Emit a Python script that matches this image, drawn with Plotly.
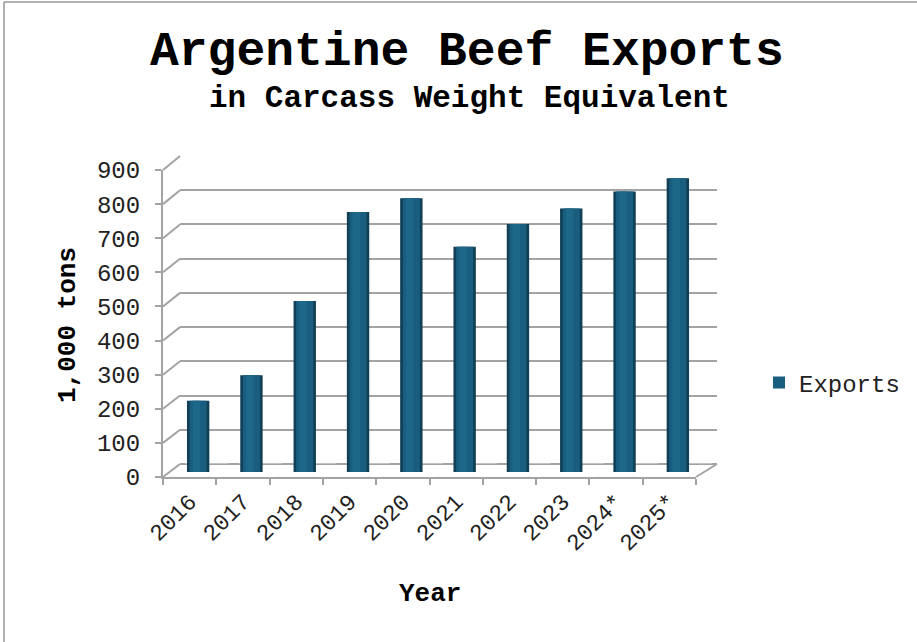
import plotly.graph_objects as go

years = ["2016", "2017", "2018", "2019", "2020", "2021", "2022", "2023", "2024*", "2025*"]
exports = [208, 283, 500, 760, 800, 658, 725, 770, 820, 858]
y_ticks = [0, 100, 200, 300, 400, 500, 600, 700, 800, 900]

W, H = 917, 642
def fx(p): return p / W
def fy(p): return 1 - p / H

FONT = "Liberation Mono, Courier New, monospace"
GRID = "#a3a3a3"

fig = go.Figure()

# back wall subplot (gridlines only) -> xaxis / yaxis
fig.add_trace(go.Bar(x=years, y=[0]*len(years), xaxis="x", yaxis="y",
                     showlegend=False, hoverinfo="skip", marker_color="rgba(0,0,0,0)"))
# bars subplot -> x2 / y2 (cylinder shading by layering)
fig.add_trace(go.Bar(x=years, y=exports, xaxis="x2", yaxis="y2", width=0.42,
                     marker=dict(color="#113f55", line_width=0), showlegend=False, hoverinfo="skip"))
fig.add_trace(go.Bar(x=years, y=exports, xaxis="x2", yaxis="y2", width=0.32,
                     marker=dict(color="#1a5e7f", line_width=0), name="Exports"))
fig.add_trace(go.Bar(x=years, y=exports, xaxis="x2", yaxis="y2", width=0.14, offset=-0.1,
                     marker=dict(color="#1d6788", line_width=0), showlegend=False, hoverinfo="skip"))
# front axis subplot -> x3 / y3
fig.add_trace(go.Bar(x=years, y=[0]*len(years), xaxis="x3", yaxis="y3",
                     showlegend=False, hoverinfo="skip", marker_color="rgba(0,0,0,0)"))

common_y = dict(range=[0, 900], fixedrange=True, automargin=False)

fig.update_layout(
    width=W, height=H, autosize=False,
    margin=dict(l=0, r=0, t=0, b=0, pad=0, autoexpand=False),
    paper_bgcolor="white", plot_bgcolor="rgba(0,0,0,0)",
    barmode="overlay",
    font=dict(family=FONT, color="#222"),
    xaxis=dict(domain=[fx(180), fx(717)], type="category", categoryarray=years,
               range=[-0.5, 9.5], showticklabels=False, ticks="", showgrid=False,
               showline=False, zeroline=False, anchor="y", automargin=False),
    yaxis=dict(domain=[fy(464), fy(156)], **common_y, tickvals=y_ticks, showticklabels=False,
               ticks="", showgrid=True, gridcolor=GRID, gridwidth=2, zeroline=True,
               zerolinecolor=GRID, zerolinewidth=2, showline=False, anchor="x"),
    xaxis2=dict(domain=[fx(171.5), fx(704.5)], type="category", categoryarray=years,
                range=[-0.5, 9.5], visible=False, anchor="y2", automargin=False),
    yaxis2=dict(domain=[fy(472), fy(164)], **common_y, visible=False, anchor="x2"),
    xaxis3=dict(domain=[fx(163), fx(696)], type="category", categoryarray=years,
                range=[-0.5, 9.5], tickson="boundaries", ticks="outside", ticklen=6,
                tickcolor=GRID, tickwidth=2, showline=True, linecolor=GRID, linewidth=2,
                showgrid=False, zeroline=False, tickangle=-45, automargin=False,
                tickfont=dict(size=23, family=FONT, color="#222"), anchor="y3"),
    yaxis3=dict(domain=[fy(477), fy(170)], **common_y, tickvals=y_ticks, ticks="outside",
                ticklen=6, tickcolor=GRID, tickwidth=2, showline=True, linecolor=GRID,
                linewidth=2, showgrid=False, zeroline=False, ticklabelstandoff=10,
                tickfont=dict(size=24, family=FONT, color="#222"), anchor="x3"),
    legend=dict(x=fx(759), y=fy(383), xanchor="left", yanchor="middle",
                font=dict(size=24, family=FONT, color="#222"), bgcolor="rgba(0,0,0,0)"),
)

# perspective connectors between front axis and back wall for each tick
shapes = []
for v in y_ticks:
    y_front = 477 - (477 - 170) * v / 900
    y_back = 464 - (464 - 156) * v / 900
    shapes.append(dict(type="line", xref="paper", yref="paper",
                       x0=fx(163), y0=fy(y_front), x1=fx(180), y1=fy(y_back),
                       line=dict(color=GRID, width=2), layer="below"))
shapes.append(dict(type="line", xref="paper", yref="paper",
                   x0=fx(696), y0=fy(477), x1=fx(717), y1=fy(464),
                   line=dict(color=GRID, width=2), layer="below"))
# chart border (left and top)
shapes.append(dict(type="line", xref="paper", yref="paper", x0=fx(4), y0=fy(2), x1=fx(4), y1=0,
                   line=dict(color="#999", width=1.5)))
shapes.append(dict(type="line", xref="paper", yref="paper", x0=fx(4), y0=fy(2), x1=1, y1=fy(2),
                   line=dict(color="#999", width=1.5)))
fig.update_layout(shapes=shapes)

fig.add_annotation(text="<b>Argentine Beef Exports</b>", x=fx(467), y=fy(52), xref="paper", yref="paper",
                   showarrow=False, font=dict(size=48, family=FONT, color="black"),
                   xanchor="center", yanchor="middle")
fig.add_annotation(text="<b>in Carcass Weight Equivalent</b>", x=fx(470), y=fy(98), xref="paper", yref="paper",
                   showarrow=False, font=dict(size=31, family=FONT, color="black"),
                   xanchor="center", yanchor="middle")
fig.add_annotation(text="<b>1,000 tons</b>", x=fx(68), y=fy(325), xref="paper", yref="paper",
                   showarrow=False, textangle=-90, font=dict(size=26, family=FONT, color="black"),
                   xanchor="center", yanchor="middle")
fig.add_annotation(text="<b>Year</b>", x=fx(430), y=fy(594), xref="paper", yref="paper",
                   showarrow=False, font=dict(size=26, family=FONT, color="black"),
                   xanchor="center", yanchor="middle")

fig.write_html("out.html", config={"displayModeBar": False},
               post_script="document.body.style.margin='0';")
